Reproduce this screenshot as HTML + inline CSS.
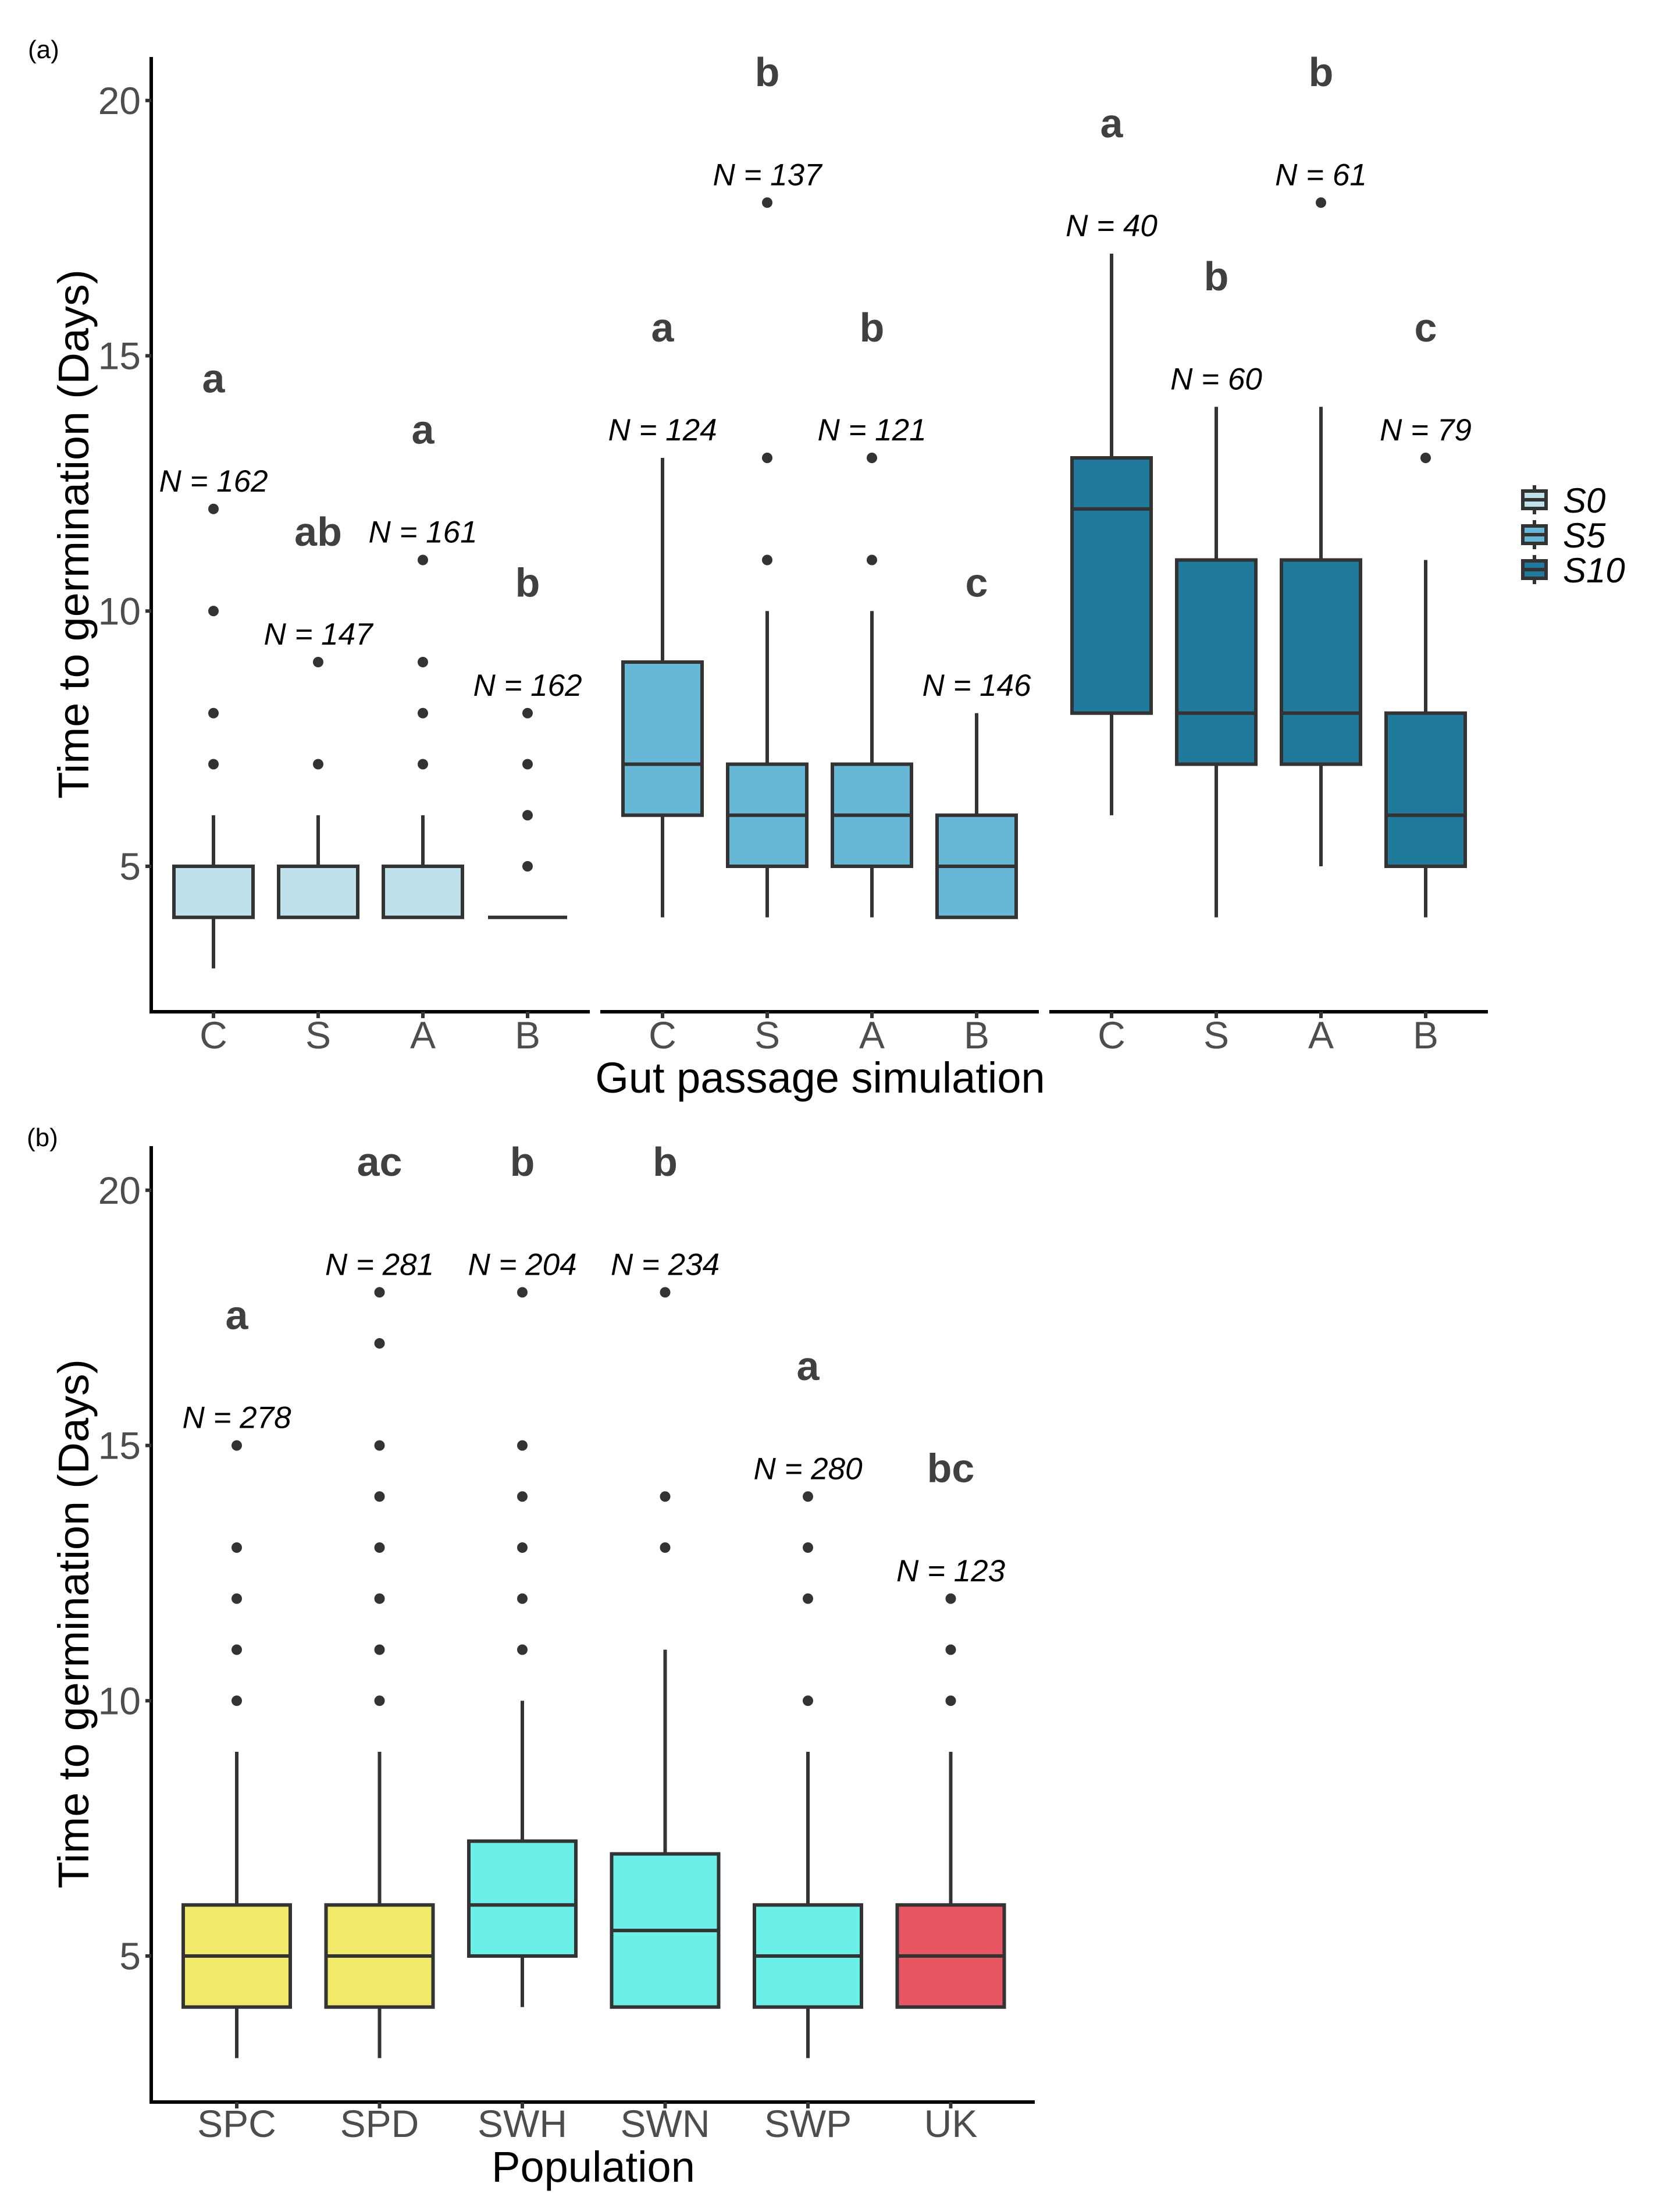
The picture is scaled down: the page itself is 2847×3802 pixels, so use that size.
<!DOCTYPE html>
<html><head><meta charset="utf-8"><style>
html,body{margin:0;padding:0;background:#fff}
svg{display:block}
text{font-family:"Liberation Sans",Arial,sans-serif}
</style></head><body>
<svg id="chart" width="2847" height="3802" viewBox="0 0 2847 3802" xmlns="http://www.w3.org/2000/svg">
<text x="48" y="100" font-size="44" fill="#000">(a)</text>
<text x="46" y="1970" font-size="44" fill="#000">(b)</text>
<g id="ga"></g><g id="gb"></g>
<text x="1410" y="1878" font-size="74" text-anchor="middle" fill="#000">Gut passage simulation</text>
<text x="1020" y="3750" font-size="74" text-anchor="middle" fill="#000">Population</text>
<text transform="translate(152,918) rotate(-90)" font-size="74" text-anchor="middle" textLength="910" lengthAdjust="spacingAndGlyphs" fill="#000">Time to germination (Days)</text>
<text transform="translate(152,2791) rotate(-90)" font-size="74" text-anchor="middle" textLength="910" lengthAdjust="spacingAndGlyphs" fill="#000">Time to germination (Days)</text>
<g id="legend"></g>
</svg>
<script>
// Panel (a) data
const facetsA = ["S0","S5","S10"];
const catsA = ["C","S","A","B"];
const fillsA = ["#BEE1EC","#67B8D6","#1F7A9C"];
const q1A = [[4,4,4,4],[6,5,5,4],[8,7,7,5]];
const medA = [[5,5,5,4],[7,6,6,5],[12,8,8,6]];
const q3A = [[5,5,5,4],[9,7,7,6],[13,11,11,8]];
const loA = [[3,4,4,4],[4,4,4,4],[6,4,5,4]];
const hiA = [[6,6,6,4],[13,10,10,8],[17,14,14,11]];
const outA = [[[7,8,10,12],[7,9],[7,8,9,11],[5,6,7,8]],[[],[11,13,18],[11,13],[]],[[],[],[18],[13]]];
const nA = [[162,147,161,162],[124,137,121,146],[40,60,61,79]];
const letA = [["a","ab","a","b"],["a","b","b","c"],["a","b","b","c"]];
const yTicks = [5,10,15,20];
// Panel (b) data
const catsB = ["SPC","SPD","SWH","SWN","SWP","UK"];
const fillsB = ["#F0E96A","#F0E96A","#6AF0E8","#6AF0E8","#6AF0E8","#E85563"];
const q1B = [4,4,5,4,4,4];
const medB = [5,5,6,5.5,5,5];
const q3B = [6,6,7.25,7,6,6];
const loB = [3,3,4,4,3,4];
const hiB = [9,9,10,11,9,9];
const outB = [[10,11,12,13,15],[10,11,12,13,14,15,17,18],[11,12,13,14,15,18],[13,14,18],[10,12,13,14],[10,11,12]];
const nB = [278,281,204,234,280,123];
const letB = ["a","ac","b","b","a","bc"];

const NS="http://www.w3.org/2000/svg";
function mk(p,tag,at){const e=document.createElementNS(NS,tag);for(const k in at)e.setAttribute(k,at[k]);p.appendChild(e);return e;}
const DK="#333333";
function drawBox(g,x,hw,q1,md,q3,lo,hi,outs,fill,yf,n,let_,name){
  const bx=document.createElementNS(NS,'g');g.appendChild(bx);
  
  
  const wl=mk(bx,'line',{x1:x,x2:x,y1:yf(hi),y2:yf(q3),stroke:DK,'stroke-width':6});
  
  
  const wl2=mk(bx,'line',{x1:x,x2:x,y1:yf(q1),y2:yf(lo),stroke:DK,'stroke-width':6});
  
  
  const r=mk(bx,'rect',{x:x-hw,y:yf(q3),width:2*hw,height:Math.max(0,yf(q1)-yf(q3)),fill:fill,stroke:DK,'stroke-width':6});
  
  
  const m=mk(bx,'line',{x1:x-hw,x2:x+hw,y1:yf(md),y2:yf(md),stroke:DK,'stroke-width':6});
  
  
  outs.forEach(o=>{const c=mk(bx,'circle',{cx:x,cy:yf(o),r:9,fill:DK});
    
    });
  const mx=Math.max(hi,...outs);
  const t=mk(g,'text',{x:x,y:yf(mx+0.34),'font-size':53,'font-style':'italic','text-anchor':'middle',fill:'#000'});
  t.textContent='N = '+n;
  
  
  const l=mk(g,'text',{x:x,y:yf(mx+2.28),'font-size':70,'font-weight':'bold','text-anchor':'middle',fill:'#404040'});
  l.textContent=let_;
  
  
}
function yAxis(g,x0,yTop,yBot,yf,nm){
  const a=mk(g,'line',{x1:x0,x2:x0,y1:yTop,y2:yBot+3,stroke:'#000','stroke-width':6});
  
  
  yTicks.forEach(v=>{
    mk(g,'line',{x1:x0-10,x2:x0,y1:yf(v),y2:yf(v),stroke:DK,'stroke-width':6});
    const t=mk(g,'text',{x:x0-18,y:yf(v)+23,'font-size':66,'text-anchor':'end',fill:'#4d4d4d'});
    t.textContent=v;
    
    
  });
}
// Panel a
(function(){
  const g=document.getElementById('ga');
  const yf=v=>1489-(v-5)*87.75;
  yAxis(g,260,98,1739,yf,'y-axis-a');
  const facetW=754, gap=18, x0=260;
  facetsA.forEach((f,fi)=>{
    const fs=x0+fi*(facetW+gap);
    const ax=mk(g,'line',{x1:fs,x2:fs+facetW,y1:1739,y2:1739,stroke:'#000','stroke-width':6});
    
    
    catsA.forEach((c,ci)=>{
      const x=fs+107+ci*180;
      mk(g,'line',{x1:x,x2:x,y1:1739,y2:1750,stroke:DK,'stroke-width':6});
      const t=mk(g,'text',{x:x,y:1802,'font-size':66,'text-anchor':'middle',fill:'#4d4d4d'});
      t.textContent=c;
      
      
      drawBox(g,x,68,q1A[fi][ci],medA[fi][ci],q3A[fi][ci],loA[fi][ci],hiA[fi][ci],outA[fi][ci],fillsA[fi],yf,nA[fi][ci],letA[fi][ci],f+'-'+c);
    });
  });
  const lg=document.getElementById('legend');
  facetsA.forEach((f,i)=>{
    const cy=859+i*60;
    mk(lg,'line',{x1:2638,x2:2638,y1:cy-25,y2:cy+25,stroke:DK,'stroke-width':6});
    const r=mk(lg,'rect',{x:2618,y:cy-15,width:40,height:30,fill:fillsA[i],stroke:DK,'stroke-width':6});
    
    
    mk(lg,'line',{x1:2618,x2:2658,y1:cy,y2:cy,stroke:DK,'stroke-width':6});
    const t=mk(lg,'text',{x:2687,y:cy+22,'font-size':60,'font-style':'italic',fill:'#000'});
    t.textContent=f;
    
    
  });
})();
// Panel b
(function(){
  const g=document.getElementById('gb');
  const yf=v=>3362-(v-5)*87.75;
  yAxis(g,260,1970,3613,yf,'y-axis-b');
  const ax=mk(g,'line',{x1:260,x2:1779,y1:3613,y2:3613,stroke:'#000','stroke-width':6});
  
  
  catsB.forEach((c,i)=>{
    const x=407+i*245.5;
    mk(g,'line',{x1:x,x2:x,y1:3613,y2:3624,stroke:DK,'stroke-width':6});
    const t=mk(g,'text',{x:x,y:3673,'font-size':66,'text-anchor':'middle',fill:'#4d4d4d'});
    t.textContent=c;
    
    
    drawBox(g,x,92,q1B[i],medB[i],q3B[i],loB[i],hiB[i],outB[i],fillsB[i],yf,nB[i],letB[i],c);
  });
})();
</script>
</body></html>
